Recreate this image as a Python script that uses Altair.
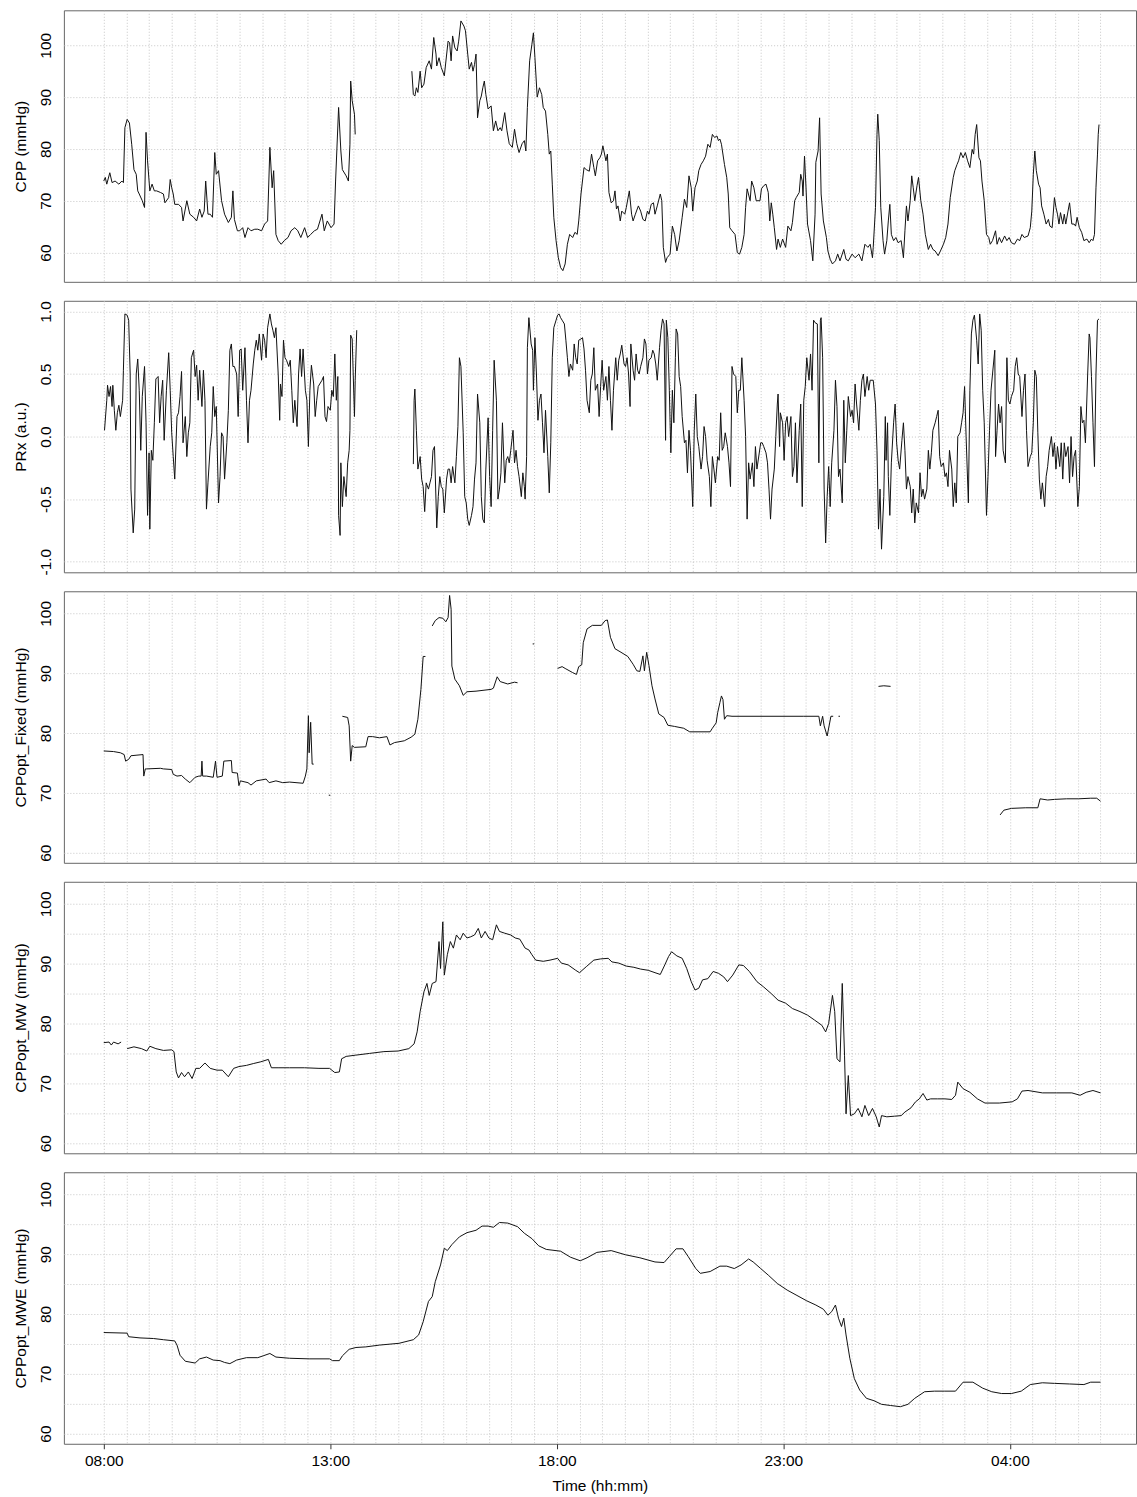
import json
import altair as alt
import pandas as pd

# ---------------- data: (minutes after 08:00, value) ----------------
cpp_seg1 = [(0,73.8),(2,74.5),(4,73.2),(8,75.4),(11,73.5),(15,73.8),(20,73.2),(24,73.8),(26,73.5),(28,84.1),
            (31,85.7),(34,85.0),(37,80.9),(40,76.0),(43,75.1),(45,71.9),(47,71.3),(51,70.0),(54,68.7),(56,83.2),
            (58,77.7),(61,71.9),(64,73.2),(67,71.9),(70,71.9),(75,71.6),(79,71.3),(81,69.6),(86,70.6),(88,74.1),
            (90,72.5),(92,71.3),(94,69.3),(99,69.3),(103,68.7),(105,66.1),(110,70.0),(114,67.4),(119,66.8),(123,66.1),
            (127,68.4),(130,66.8),(133,68.0),(135,73.8),(138,67.4),(141,67.4),(144,66.8),(147,79.3),(149,75.1),(152,75.8),
            (156,70.0),(160,67.4),(165,65.8),(169,66.8),(171,71.9),(173,66.4),(177,64.2),(180,64.2),(184,64.8),(187,62.9),
            (191,64.8),(195,64.2),(200,64.5),(204,64.5),(209,64.2),(213,65.5),(217,66.1),(220,80.3),(223,72.5),(225,75.8),
            (228,63.5),(231,62.3),(235,61.6),(239,62.3),(244,62.9),(248,64.2),(253,64.8),(257,64.2),(261,62.9),(266,64.8),
            (270,62.9),(274,63.5),(279,64.2),(283,64.5),(289,67.4),(292,64.2),(296,66.1),(301,64.8),(305,65.5),(307,73.8),
            (311,88.0),(314,79.6),(316,76.0),(321,74.8),(324,73.8),(326,80.9),(327,93.1),(329,89.3),(332,86.7),(333,82.8)]
cpp_seg2 = [(408,95.0),(410,90.5),(412,90.2),(414,91.8),(416,90.9),(419,95.0),(421,91.8),(424,92.5),(427,95.7),(431,97.0),
            (434,95.4),(437,101.5),(440,98.3),(441,96.0),(444,97.6),(447,95.7),(451,94.1),(456,100.8),(458,100.5),(460,97.0),
            (462,101.8),(465,99.5),(468,98.9),(470,100.8),(473,104.7),(477,103.7),(479,102.8),(482,98.3),(484,95.4),(487,96.7),
            (489,95.0),(491,96.3),(493,98.3),(495,86.0),(498,89.3),(500,90.2),(502,91.8),(504,93.1),(506,90.5),(509,87.7),
            (513,88.3),(516,83.5),(519,85.4),(522,83.5),(525,84.1),(527,83.5),(531,87.0),(534,83.5),(537,81.0),(541,80.3),
            (544,83.8),(547,81.0),(550,79.3),(554,81.0),(557,81.6),(559,79.6),(561,88.0),(564,97.0),(567,100.2),(569,102.4),
            (571,97.6),(574,90.0),(577,91.8),(580,90.5),(582,88.0),(585,87.3),(588,82.8),(590,79.0),(592,79.6),(594,73.2),
            (596,66.8),(599,62.3),(602,59.0),(605,57.1),(608,56.5),(611,57.8),(614,61.6),(617,63.5),(621,62.9),(624,63.9),
            (627,63.5),(629,66.1),(632,71.3),(636,76.4),(639,76.0),(643,75.7),(646,79.0),(649,76.4),(651,74.8),(654,77.7),
            (657,78.3),(659,79.0),(661,80.6),(665,77.7),(667,79.0),(669,71.6),(672,69.6),(675,70.0),(677,71.9),(679,68.4),
            (681,69.0),(684,66.1),(686,68.0),(690,67.4),(692,68.7),(696,71.9),(699,67.4),(701,66.1),(704,67.4),(708,69.0),
            (711,68.0),(714,66.4),(717,66.1),(720,68.0),(722,67.4),(725,69.3),(728,69.6),(730,67.4),(733,69.0),(737,71.3),
            (739,70.0),(741,61.0),(744,58.1),(746,59.0),(750,59.7),(753,65.1),(756,63.5),(759,60.3),(762,62.3),(766,66.8),
            (769,70.3),(772,68.7),(775,74.8),(778,72.5),(780,68.0),(783,72.5),(786,73.8),(788,75.8),(791,77.0),(794,77.7),
            (797,78.6),(800,80.9),(803,80.3),(806,82.8),(809,82.2),(812,82.5),(814,81.6),(816,81.9),(818,80.9),(822,77.0),
            (825,74.5),(827,71.3),(829,64.8),(832,64.2),(836,63.5),(839,60.0),(842,59.7),(845,61.0),(848,63.5),(850,68.7),
            (852,72.3),(856,70.0),(858,73.8),(861,72.5),(864,70.0),(869,70.0),(871,72.3),(874,72.9),(877,73.2),(880,71.6),
            (882,66.1),(884,69.6),(886,67.4),(888,64.8),(891,60.6),(893,62.6),(896,61.0),(899,62.6),(903,61.0),(906,65.1),
            (910,64.2),(912,65.8),(915,70.0),(917,70.6),(921,71.6),(923,75.1),(925,73.8),(926,70.9),(928,78.6),(930,72.5),
            (932,65.5),(936,62.3),(939,58.4),(942,67.4),(943,77.4),(946,79.6),(948,86.0),(950,71.3),(953,66.1),(957,62.9),
            (959,60.3),(962,58.7),(965,57.8),(969,58.4),(972,59.7),(975,58.4),(980,60.6),(983,58.7),(986,58.4),(991,59.7),
            (995,59.0),(1000,59.7),(1004,58.4),(1008,61.6),(1012,61.0),(1015,61.6),(1018,59.0),(1019,61.0),(1022,68.7),(1024,82.8),
            (1025,86.7),(1027,81.6),(1029,68.7),(1032,62.3),(1034,59.7),(1037,62.3),(1039,66.1),(1041,69.3),(1043,63.5),(1046,62.3),
            (1049,62.9),(1052,61.9),(1056,62.3),(1059,59.0),(1061,64.2),(1063,69.0),(1065,66.1),(1068,70.0),(1070,74.8),(1072,72.5),
            (1074,70.0),(1077,72.9),(1079,74.5),(1082,70.0),(1085,67.4),(1088,63.5),(1092,60.6),(1095,61.6),(1098,60.6),(1101,60.3),
            (1105,59.4),(1108,60.3),(1112,61.6),(1115,62.9),(1118,65.5),(1121,70.6),(1125,74.5),(1127,75.8),(1130,77.0),(1132,77.7),
            (1135,79.3),(1138,78.3),(1141,79.3),(1144,77.7),(1147,76.4),(1150,79.9),(1152,79.0),(1154,82.8),(1156,84.7),(1159,78.3),
            (1161,77.7),(1163,73.8),(1166,70.0),(1169,63.5),(1172,62.9),(1174,61.6),(1177,62.3),(1181,64.2),(1183,61.6),(1186,62.9),
            (1189,61.9),(1193,63.2),(1196,62.3),(1199,62.9),(1202,61.9),(1206,61.6),(1210,62.6),(1213,62.3),(1216,63.5),(1219,62.9),
            (1224,63.2),(1227,64.8),(1229,68.0),(1231,75.1),(1233,79.6),(1235,75.8),(1238,73.2),(1240,72.5),(1242,69.0),(1245,67.4),
            (1248,65.5),(1251,66.4),(1253,65.1),(1256,64.8),(1259,70.6),(1261,68.7),(1263,67.4),(1265,65.5),(1267,67.7),(1270,65.5),
            (1272,67.4),(1274,65.5),(1277,68.0),(1279,69.6),(1282,65.5),(1285,65.5),(1287,65.1),(1289,66.8),(1292,64.8),(1295,63.9),
            (1298,62.3),(1302,62.6),(1305,61.9),(1308,62.6),(1310,62.3),(1312,63.5),(1314,72.5),(1316,79.0),(1317,82.8),(1318,84.7)]

prx_seg1 = [(1,0.05),(4,0.29),(5,0.41),(7,0.32),(9,0.40),(11,0.24),(12,0.41),(14,0.21),(16,0.05),(18,0.19),
            (20,0.25),(22,0.16),(25,0.29),(26,0.53),(28,0.98),(31,0.97),(33,0.93),(35,0.50),(36,-0.42),(39,-0.77),
            (41,-0.58),(43,0.50),(45,0.62),(47,0.37),(49,-0.11),(51,0.32),(54,0.56),(56,0.11),(58,-0.63),(60,-0.13),
            (61,-0.74),(63,-0.11),(65,-0.19),(67,0.11),(69,0.46),(72,0.48),(74,0.11),(76,0.32),(78,0.45),(80,-0.03),
            (83,0.37),(86,0.67),(88,0.37),(90,0.03),(92,-0.16),(94,-0.34),(97,0.16),(99,0.19),(101,0.32),(103,0.52),
            (105,-0.05),(108,0.16),(110,-0.16),(112,0.03),(114,0.11),(116,0.63),(119,0.69),(121,0.48),(123,0.57),(125,0.29),
            (127,0.53),(130,0.24),(132,0.53),(134,0.29),(136,-0.58),(138,-0.37),(141,-0.08),(143,0.03),(145,0.40),(147,0.16),
            (149,0.24),(152,-0.53),(154,-0.32),(156,0.03),(158,0.0),(160,-0.34),(163,-0.05),(165,0.21),(167,0.69),(169,0.74),
            (171,0.56),(173,0.56),(176,0.50),(178,0.16),(180,0.69),(182,0.70),(184,0.37),(187,0.71),(189,0.29),(191,-0.05),
            (193,0.29),(195,0.37),(198,0.58),(200,0.69),(202,0.77),(204,0.69),(206,0.82),(209,0.61),(211,0.82),(213,0.77),
            (215,0.63),(217,0.87),(220,0.98),(222,0.90),(224,0.85),(226,0.79),(228,0.87),(231,0.50),(233,0.13),(234,0.42),
            (236,0.32),(238,0.77),(240,0.63),(242,0.61),(245,0.56),(247,0.61),(249,0.37),(251,0.11),(253,0.29),(256,0.08),
            (258,0.50),(260,0.70),(262,0.48),(264,0.70),(267,0.37),(269,0.29),(271,-0.08),(273,0.37),(275,0.57),(278,0.42),
            (280,0.16),(282,0.29),(284,0.40),(286,0.42),(289,0.45),(291,0.48),(293,0.16),(295,0.12),(297,0.24),(300,0.21),
            (302,0.37),(304,0.32),(306,0.66),(308,0.29),(310,0.48),(311,-0.63),(313,-0.79),(314,-0.21),(316,-0.56),(318,-0.32),
            (321,-0.48),(323,-0.21),(325,-0.11),(326,0.05),(327,0.81),(329,0.78),(332,0.16),(333,0.45),(335,0.85)]
prx_seg2 = [(410,-0.22),(411,0.29),(412,0.38),(414,0.05),(416,-0.26),(419,-0.16),(421,-0.34),(423,-0.40),(425,-0.60),(427,-0.37),
            (430,-0.42),(432,-0.37),(434,-0.32),(436,-0.11),(438,-0.08),(441,-0.73),(443,-0.48),(445,-0.32),(447,-0.40),(449,-0.42),
            (451,-0.61),(454,-0.34),(456,-0.26),(458,-0.26),(460,-0.37),(462,-0.24),(465,-0.37),(467,-0.16),(469,0.08),(471,0.63),
            (473,0.56),(476,0.03),(478,-0.48),(480,-0.53),(482,-0.66),(484,-0.71),(487,-0.63),(489,-0.56),(491,-0.34),(493,-0.21),
            (495,0.34),(498,0.11),(500,-0.48),(502,-0.66),(504,-0.69),(506,-0.26),(509,0.15),(511,-0.32),(513,-0.56),(515,0.05),
            (517,0.61),(520,0.29),(522,-0.50),(524,-0.42),(526,-0.29),(528,0.11),(531,-0.37),(533,-0.19),(535,-0.16),(537,-0.21),
            (539,-0.11),(542,0.05),(544,-0.21),(546,-0.11),(548,-0.24),(550,-0.32),(553,-0.48),(555,-0.29),(557,-0.40),(558,-0.50),
            (560,-0.16),(561,0.71),(563,0.95),(566,0.74),(568,0.69),(569,0.37),(571,0.79),(573,0.50),(575,0.13),(577,0.29),
            (579,0.34),(581,0.11),(583,-0.13),(585,0.21),(588,-0.16),(590,-0.45),(592,-0.05),(594,0.63),(596,0.87),(599,0.93),
            (601,0.97),(603,0.98),(605,0.95),(607,0.93),(610,0.90),(612,0.77),(614,0.63),(616,0.48),(618,0.58),(621,0.53),
            (623,0.74),(625,0.63),(627,0.58),(629,0.77),(632,0.78),(634,0.79),(636,0.70),(638,0.53),(640,0.29),(643,0.19),
            (645,0.45),(647,0.50),(649,0.71),(651,0.37),(654,0.42),(656,0.16),(658,0.40),(660,0.61),(662,0.37),(665,0.48),
            (667,0.29),(669,0.56),(671,0.29),(673,0.05),(675,0.37),(678,0.63),(680,0.45),(682,0.61),(684,0.66),(686,0.73),
            (689,0.58),(691,0.56),(693,0.63),(695,0.50),(697,0.24),(698,0.74),(701,0.53),(703,0.45),(705,0.66),(707,0.53),
            (709,0.50),(711,0.56),(714,0.63),(716,0.78),(718,0.74),(720,0.50),(722,0.61),(725,0.63),(727,0.69),(729,0.66),
            (731,0.58),(733,0.45),(736,0.71),(738,0.85),(740,0.94),(742,0.90),(744,-0.03),(745,0.93),(747,0.79),(749,0.37),
            (750,0.11),(751,-0.13),(753,0.37),(755,0.11),(757,0.63),(758,0.86),(760,0.82),(762,0.48),(764,0.40),(766,0.16),
            (769,-0.05),(771,-0.03),(773,-0.29),(775,0.05),(777,-0.11),(780,-0.56),(782,0.05),(784,0.34),(786,0.0),(788,-0.08),
            (791,-0.26),(793,-0.16),(795,0.08),(797,0.0),(799,-0.19),(802,-0.32),(804,-0.56),(806,-0.16),(808,-0.26),(810,-0.37),
            (813,-0.16),(815,-0.19),(817,0.19),(819,-0.11),(821,-0.08),(823,0.03),(826,-0.08),(828,-0.21),(830,-0.40),(832,0.56),
            (834,0.50),(837,0.48),(839,0.19),(841,0.37),(843,0.37),(845,0.63),(848,0.29),(850,0.0),(852,-0.66),(854,-0.21),
            (856,-0.34),(859,-0.21),(861,-0.40),(863,-0.08),(865,-0.26),(870,-0.05),(872,-0.05),(874,-0.08),(877,-0.13),(879,-0.21),
            (881,-0.42),(883,-0.66),(885,-0.42),(888,-0.26),(890,0.0),(892,0.26),(893,0.34),(895,-0.08),(896,0.19),(899,0.11),
            (901,-0.19),(903,0.11),(905,0.16),(907,0.0),(910,0.16),(912,-0.32),(914,-0.24),(916,0.11),(918,-0.37),(921,0.05),
            (923,0.26),(925,-0.56),(927,0.29),(929,0.40),(931,0.63),(934,0.45),(936,0.66),(938,0.37),(940,0.93),(942,0.91),
            (945,0.90),(947,-0.21),(949,0.93),(950,0.95),(952,0.63),(954,-0.42),(956,-0.85),(958,-0.48),(960,-0.24),(962,-0.56),
            (964,-0.21),(967,0.05),(969,0.45),(971,0.24),(973,-0.32),(975,-0.26),(978,-0.53),(980,0.29),(982,-0.21),(984,0.05),
            (986,0.32),(989,0.16),(991,0.21),(993,0.11),(995,0.42),(997,0.26),(1000,0.05),(1002,0.29),(1004,0.45),(1006,0.50),
            (1008,0.32),(1011,0.48),(1013,0.37),(1015,0.45),(1019,0.45),(1022,0.26),(1024,-0.11),(1026,-0.74),(1028,-0.42),(1030,-0.90),
            (1033,-0.48),(1035,0.16),(1036,-0.19),(1038,0.11),(1039,-0.32),(1041,-0.63),(1043,-0.21),(1046,0.11),(1048,0.26),(1050,-0.05),
            (1052,-0.19),(1054,-0.26),(1057,-0.03),(1059,0.11),(1061,-0.11),(1063,-0.42),(1065,-0.32),(1068,-0.40),(1070,-0.61),(1072,-0.42),
            (1074,-0.69),(1076,-0.53),(1079,-0.61),(1081,-0.29),(1083,-0.48),(1085,-0.42),(1087,-0.50),(1090,-0.42),(1092,-0.11),(1094,-0.26),
            (1096,-0.13),(1098,0.05),(1101,0.11),(1103,0.16),(1105,0.21),(1107,-0.16),(1109,-0.24),(1112,-0.21),(1114,-0.32),(1116,-0.29),
            (1118,-0.40),(1120,-0.11),(1123,-0.26),(1125,-0.56),(1127,-0.37),(1129,-0.53),(1131,0.0),(1134,0.03),(1136,0.11),(1138,0.19),
            (1140,0.40),(1142,0.0),(1145,-0.53),(1147,0.37),(1149,0.82),(1151,0.93),(1153,0.97),(1156,0.77),(1158,0.58),(1160,0.98),
            (1162,0.85),(1164,0.37),(1166,0.11),(1169,-0.63),(1171,-0.32),(1173,0.05),(1175,0.37),(1177,0.50),(1180,0.69),(1181,-0.16),
            (1183,0.05),(1185,0.26),(1187,0.11),(1189,0.24),(1191,-0.11),(1194,-0.21),(1196,0.63),(1198,0.29),(1200,0.26),(1202,0.32),
            (1205,0.37),(1207,0.56),(1209,0.63),(1211,0.50),(1213,0.48),(1216,0.16),(1218,0.37),(1220,0.50),(1222,0.05),(1224,-0.24),
            (1227,-0.16),(1229,-0.13),(1231,0.11),(1233,0.53),(1235,0.48),(1237,0.03),(1239,-0.34),(1241,-0.50),(1243,-0.37),(1246,-0.56),
            (1248,-0.32),(1250,-0.24),(1252,-0.11),(1255,0.0),(1257,-0.16),(1259,-0.05),(1261,-0.26),(1263,-0.08),(1266,-0.24),(1268,-0.05),
            (1270,-0.34),(1272,-0.05),(1274,-0.16),(1277,-0.08),(1279,-0.37),(1281,0.0),(1283,-0.32),(1285,-0.16),(1287,-0.11),(1290,-0.56),
            (1292,-0.40),(1294,0.24),(1296,0.11),(1298,0.13),(1300,-0.05),(1303,0.50),(1305,0.82),(1306,0.79),(1308,0.48),(1310,0.11),
            (1312,-0.24),(1314,0.50),(1316,0.93),(1318,0.94)]

fixed_seg1 = [(0,77.0),(13,76.9),(22,76.7),(27,76.4),(29,75.3),(33,75.6),(36,76.2),(44,76.3),(52,76.4),(53,72.8),
              (55,74.0),(57,74.0),(75,74.1),(79,74.0),(90,73.9),(92,73.1),(97,72.8),(103,72.9),(108,72.3),(114,71.7),
              (121,72.6),(126,72.8),(129,72.8),(130,75.3),(131,72.8),(136,72.8),(145,72.6),(148,75.3),(150,72.6),(157,72.8),
              (159,75.3),(169,75.4),(170,73.4),(177,73.3),(179,71.2),(181,72.0),(191,71.7),(195,71.3),(202,72.0),(215,72.3),
              (219,71.7),(228,72.0),(237,71.7),(246,71.8),(264,71.6),(267,72.8),(269,74.0),(271,82.9),(272,76.7),(274,81.8),
              (276,74.8),(278,74.8)]
fixed_seg2 = [(298,69.6),(300,69.6)]
fixed_seg3 = [(316,82.8),(323,82.6),(325,81.2),(327,75.3),(329,77.9),(332,77.6),(347,77.7),(350,79.4),(356,79.4),(365,79.2),
              (375,79.4),(379,78.0),(385,78.4),(398,78.7),(407,79.3),(412,79.8),(416,82.3),(420,87.3),(423,92.8),(426,92.8)]
fixed_seg4 = [(435,97.9),(439,98.8),(444,99.3),(449,99.2),(453,98.6),(456,99.3),(458,103.0),(460,100.7),(461,91.2),(465,89.0),
              (471,87.9),(476,86.3),(481,86.9),(493,87.0),(513,87.3),(516,87.5),(521,89.4),(525,88.6),(535,88.2),(544,88.5),
              (548,88.4)]
fixed_seg5 = [(568,94.9),(570,94.9)]
fixed_seg6 = [(601,90.8),(607,91.1),(611,90.8),(621,90.1),(626,89.8),(629,91.1),(633,91.4),(635,95.1),(640,97.4),(647,98.0),
              (659,98.0),(664,98.8),(667,98.9),(671,96.0),(677,94.1),(685,93.5),(694,92.8),(701,91.5),(706,90.4),(710,90.3),
              (714,92.9),(716,90.4),(719,93.5),(722,91.3),(726,87.9),(730,85.7),(735,83.2),(742,82.6),(747,81.3),(756,81.1),
              (768,80.8),(776,80.2),(803,80.2),(806,80.8),(811,81.7),(813,83.4),(816,85.1),(818,86.2),(820,85.6),(822,82.3),
              (825,82.9),(832,82.8),(927,82.8),(947,82.8),(949,81.2),(952,82.8),(954,81.2),(958,79.5),(963,82.8),(966,82.8)]
fixed_seg7 = [(973,82.8),(975,82.8)]
fixed_seg8 = [(1026,87.8),(1033,87.9),(1042,87.8)]
fixed_seg9 = [(1187,66.3),(1192,67.1),(1202,67.4),(1221,67.5),(1237,67.5),(1240,69.0),(1250,68.8),(1259,68.9),(1275,69.0),(1291,69.0),
              (1307,69.1),(1315,69.1),(1320,68.6)]

mw_seg1 = [(0,76.8),(7,76.9),(10,76.4),(13,76.9),(19,76.6),(23,76.9)]
mw_seg2 = [(31,75.8),(40,76.1),(50,75.8),(57,75.4),(61,76.2),(69,75.8),(79,75.5),(90,75.6),(93,75.3),(96,71.9),
           (99,70.9),(103,71.8),(107,71.1),(112,71.9),(117,70.8),(122,72.5),(127,72.5),(134,73.4),(141,72.5),(150,72.2),
           (157,72.2),(165,71.1),(172,72.5),(179,72.8),(189,73.0),(198,73.3),(208,73.6),(218,74.0),(222,72.6),(232,72.6),
           (246,72.6),(266,72.6),(285,72.5),(299,72.5),(306,71.8),(312,71.9),(315,74.1),(321,74.5),(333,74.7),(352,75.0),
           (371,75.3),(390,75.4),(404,75.8),(411,76.6),(415,78.6),(419,82.0),(424,85.3),(428,86.7),(431,84.7),(435,86.7),
           (440,87.0),(444,93.7),(446,89.2),(449,97.0),(451,88.1),(455,91.5),(459,93.7),(463,92.6),(467,94.8),(472,94.0),
           (476,95.1),(481,94.3),(486,94.5),(491,94.8),(496,95.9),(500,94.3),(505,95.4),(510,94.3),(515,94.0),(520,96.5),
           (524,95.4),(531,95.1),(539,94.8),(545,94.3),(551,94.1),(558,92.6),(563,92.3),(567,91.5),(572,90.6),(582,90.4),
           (591,90.6),(601,90.9),(606,90.1),(615,89.8),(625,88.9),(630,88.5),(639,89.5),(649,90.6),(658,90.8),(668,90.9),
           (673,90.3),(682,90.1),(692,89.6),(702,89.4),(711,89.1),(721,88.9),(730,88.5),(737,88.2),(743,89.8),(748,91.2),
           (752,92.0),(759,91.3),(766,90.9),(772,89.2),(778,87.0),(783,85.6),(788,85.9),(793,87.3),(800,87.5),(807,88.7),
           (814,88.4),(821,87.8),(826,87.0),(833,88.1),(841,89.8),(847,89.7),(855,88.7),(865,87.0),(874,86.1),(884,85.0),
           (893,83.9),(903,83.4),(912,82.5),(922,82.0),(932,81.4),(941,80.6),(951,79.7),(956,78.6),(960,80.0),(965,84.7),
           (968,82.0),(971,74.1),(975,73.6),(978,86.7),(981,74.7),(983,64.9),(986,71.3),(989,64.6),(994,64.9),(999,65.8),
           (1004,64.4),(1008,66.3),(1013,64.6),(1018,65.8),(1023,64.4),(1027,62.7),(1030,64.6),(1037,64.4),(1047,64.5),(1056,64.6),
           (1061,65.2),(1069,65.9),(1075,66.9),(1080,67.4),(1085,68.3),(1090,67.2),(1095,67.4),(1104,67.4),(1114,67.4),(1123,67.3),
           (1128,68.0),(1131,70.2),(1138,69.1),(1147,68.5),(1157,67.4),(1167,66.7),(1186,66.7),(1203,66.9),(1210,67.4),(1216,68.7),
           (1224,68.8),(1243,68.4),(1262,68.4),(1282,68.4),(1293,68.0),(1301,68.5),(1310,68.8),(1320,68.4)]

mwe_seg1 = [(0,76.9),(31,76.8),(33,76.2),(48,76.0),(66,75.9),(79,75.7),(94,75.5),(97,74.8),(101,73.1),(108,72.1),
            (121,71.8),(127,72.5),(136,72.8),(145,72.3),(154,72.2),(160,71.9),(167,71.7),(176,72.3),(189,72.7),(204,72.7),
            (211,73.0),(220,73.4),(228,72.8),(246,72.6),(272,72.5),(299,72.5),(303,72.2),(312,72.2),(316,73.0),(325,74.1),
            (334,74.4),(347,74.5),(365,74.8),(391,75.1),(410,75.7),(417,76.5),(423,78.7),(430,82.1),(435,82.9),(439,85.4),
            (446,88.2),(451,91.0),(455,90.6),(461,91.6),(471,92.9),(481,93.6),(493,94.0),(501,94.7),(509,94.7),(516,94.5),
            (524,95.3),(535,95.2),(548,94.6),(557,93.5),(567,92.6),(576,91.4),(586,90.8),(605,90.5),(618,89.5),(631,88.9),
            (640,89.4),(653,90.3),(672,90.6),(691,89.9),(710,89.4),(730,88.7),(742,88.6),(749,89.6),(758,90.9),(767,90.9),
            (774,89.6),(784,87.6),(790,86.8),(803,87.1),(816,88.0),(825,88.0),(835,87.6),(844,88.2),(854,89.2),(860,88.7),
            (870,87.6),(880,86.5),(892,85.1),(905,84.0),(918,83.1),(931,82.2),(943,81.5),(953,80.8),(959,79.8),(964,80.4),
            (969,81.5),(973,79.3),(977,77.9),(980,79.3),(983,76.5),(988,72.6),(994,69.2),(1001,67.3),(1010,65.9),(1020,65.5),
            (1030,64.9),(1042,64.7),(1055,64.5),(1065,64.9),(1074,65.9),(1087,67.0),(1100,67.1),(1113,67.1),(1128,67.1),(1138,68.6),
            (1151,68.6),(1164,67.6),(1176,67.0),(1189,66.7),(1202,66.7),(1215,67.1),(1227,68.2),(1243,68.5),(1259,68.4),(1279,68.3),
            (1298,68.2),(1307,68.6),(1320,68.6)]

# axis ticks / labels
x_tick_minutes = [0, 300, 600, 900, 1200]
x_tick_labels = ["08:00", "13:00", "18:00", "23:00", "04:00"]
x_grid_minutes = list(range(0, 1321, 30))
cpp_grid = [60, 70, 80, 90, 100]
prx_grid = [-1.0, -0.5, 0.0, 0.5, 1.0]
opt_grid10 = [60, 70, 80, 90, 100]
opt_grid5 = [60, 65, 70, 75, 80, 85, 90, 95, 100]
opt_labels = [60, 70, 80, 90, 100]

# ---------------- chart ----------------
FONT = "Liberation Sans"
W, H = 1074, 272
X_DOMAIN = [-52.8, 1367]


def frame(segments):
    rows = []
    for i, seg in enumerate(segments):
        for t, v in seg:
            rows.append({"minute": t, "value": v, "seg": i})
    return pd.DataFrame(rows)


def x_axis(bottom):
    common = dict(values=x_grid_minutes, grid=True, domain=False, labelOverlap=False, labelFlush=False)
    if not bottom:
        return alt.Axis(labels=False, ticks=False, title=None, **common)
    ticks_js = json.dumps(x_tick_minutes)
    labels_js = json.dumps(x_tick_labels).replace('"', "'")
    test = f"indexof({ticks_js}, datum.value) >= 0"
    return alt.Axis(
        labelExpr=f"{test} ? {labels_js}[indexof({ticks_js}, datum.value)] : ''",
        ticks=True, tickSize=5, tickColor="#333", tickWidth=1,
        tickOpacity={"condition": {"test": test, "value": 1}, "value": 0},
        labelPadding=5, labelAngle=0,
        title="Time (hh:mm)", titleY=47, titleBaseline="alphabetic", titleAlign="center",
        **common,
    )


def y_axis(title, grid_vals, label_vals, fmt):
    test = f"indexof({json.dumps(label_vals)}, datum.value) >= 0"
    return alt.Axis(
        values=grid_vals, grid=True, domain=False, ticks=False, tickSize=0,
        labelExpr=f"{test} ? {fmt} : ''", labelOverlap=False,
        labelAngle=270, labelAlign="center", labelBaseline="bottom", labelPadding=10,
        title=title, titleAngle=270, titleX=-38, titleY=H / 2,
        titleAlign="center", titleBaseline="alphabetic",
    )


def panel(segments, title, ydomain, grid_vals, label_vals, fmt, bottom=False):
    return alt.Chart(frame(segments)).mark_line(color="#111111", strokeWidth=1, clip=True).encode(
        x=alt.X("minute:Q", scale=alt.Scale(domain=X_DOMAIN, nice=False, zero=False), axis=x_axis(bottom)),
        y=alt.Y("value:Q", scale=alt.Scale(domain=ydomain, nice=False, zero=False),
                axis=y_axis(title, grid_vals, label_vals, fmt)),
        detail="seg:N",
    ).properties(width=W, height=H)


int_fmt = "format(datum.value, 'd')"
prx_fmt = "(datum.value < 0 ? '-' : '') + format(abs(datum.value), '.1f')"

p1 = panel([cpp_seg1, cpp_seg2], "CPP (mmHg)", [54.35, 106.75], cpp_grid, cpp_grid, int_fmt)
p2 = panel([prx_seg1, prx_seg2], "PRx (a.u.)", [-1.085, 1.085], prx_grid, prx_grid, prx_fmt)
p3 = panel([fixed_seg1, fixed_seg2, fixed_seg3, fixed_seg4, fixed_seg5, fixed_seg6, fixed_seg7, fixed_seg8, fixed_seg9],
           "CPPopt_Fixed (mmHg)", [58.3, 103.7], opt_grid10, opt_labels, int_fmt)
p4 = panel([mw_seg1, mw_seg2], "CPPopt_MW (mmHg)", [58.3, 103.7], opt_grid5, opt_labels, int_fmt)
p5 = panel([mwe_seg1], "CPPopt_MWE (mmHg)", [58.3, 103.7], opt_grid5, opt_labels, int_fmt, bottom=True)

chart = alt.vconcat(p1, p2, p3, p4, p5, spacing=19, bounds="flush").properties(
    padding={"left": 13, "top": 8, "right": 0, "bottom": 4},
    background="white",
).configure_view(
    stroke="#666666", strokeWidth=1
).configure_axis(
    labelFont=FONT, titleFont=FONT, labelFontSize=15.5, titleFontSize=15.5,
    labelColor="#000000", titleColor="#000000", titleFontWeight="normal",
    gridColor="#c6c6c6", gridDash=[1, 2], gridWidth=1,
)

chart.save("out.html", embed_options={"renderer": "svg", "actions": False})
